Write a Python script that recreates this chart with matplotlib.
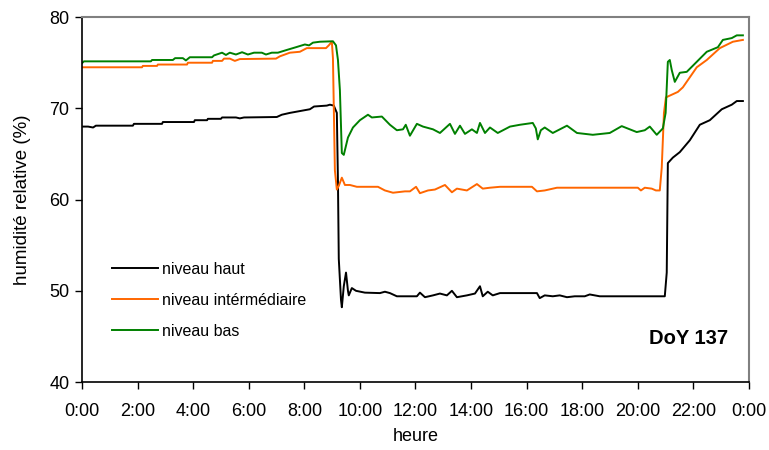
import matplotlib
matplotlib.use("Agg")
import matplotlib.pyplot as plt

plt.rcParams['font.family'] = ['Liberation Sans', 'DejaVu Sans']

# Relative humidity over the day (hours, %)
t_haut = [0.04, 0.22, 0.40, 0.50, 1.83, 1.87, 2.88, 2.91, 4.03, 4.06, 4.50, 4.53, 5.00, 5.04,
          5.54, 5.68, 5.83, 7.01, 7.19, 7.48, 7.84, 8.20, 8.35, 8.81, 8.92, 9.06, 9.17, 9.21,
          9.24, 9.32, 9.35, 9.42, 9.50, 9.57, 9.60, 9.71, 9.86, 10.18, 10.72, 10.90, 11.08,
          11.33, 12.05, 12.16, 12.34, 12.63, 12.88, 13.13, 13.31, 13.49, 13.85, 14.14, 14.32,
          14.42, 14.60, 14.78, 15.04, 16.37, 16.47, 16.65, 16.94, 17.19, 17.45, 17.73, 18.09,
          18.27, 18.63, 20.97, 21.04, 21.08, 21.26, 21.51, 21.87, 22.23, 22.59, 23.02, 23.38,
          23.56, 23.78]
rh_haut = [68.0, 68.0, 67.9, 68.1, 68.1, 68.3, 68.3, 68.5, 68.5, 68.7, 68.7, 68.85, 68.85, 69.0,
           69.0, 68.9, 69.0, 69.05, 69.3, 69.5, 69.7, 69.9, 70.2, 70.3, 70.4, 70.3, 69.5, 62.0,
           53.5, 49.0, 48.2, 50.5, 52.0, 50.0, 49.5, 50.3, 50.0, 49.8, 49.75, 49.9, 49.75,
           49.4, 49.4, 49.8, 49.3, 49.5, 49.7, 49.5, 50.0, 49.3, 49.5, 49.7, 50.5,
           49.4, 49.9, 49.5, 49.75, 49.75, 49.2, 49.5, 49.4, 49.5, 49.3, 49.4, 49.4,
           49.6, 49.4, 49.4, 52.0, 64.0, 64.6, 65.2, 66.5, 68.2, 68.7, 69.9, 70.4,
           70.8, 70.8]

t_inter = [0.0, 2.16, 2.19, 2.70, 2.73, 3.78, 3.81, 4.68, 4.71, 5.04, 5.11, 5.32, 5.50, 5.68,
           6.98, 7.12, 7.48, 7.84, 8.09, 8.78, 8.88, 8.99, 9.03, 9.10, 9.17, 9.24, 9.35, 9.46,
           9.64, 9.89, 10.65, 10.90, 11.19, 11.62, 11.80, 12.02, 12.16, 12.45, 12.70, 13.06,
           13.31, 13.49, 13.85, 14.21, 14.42, 14.68, 15.04, 16.19, 16.37, 16.65, 17.09, 20.00,
           20.11, 20.25, 20.50, 20.65, 20.79, 20.86, 20.94, 21.01, 21.44, 21.62, 22.12, 22.48,
           22.95, 23.42, 23.78]
rh_inter = [74.5, 74.5, 74.65, 74.65, 74.8, 74.8, 75.0, 75.0, 75.2, 75.2, 75.45, 75.45, 75.2, 75.4,
            75.45, 75.7, 76.1, 76.2, 76.6, 76.6, 76.9, 77.3, 75.5, 63.2, 61.1, 61.5, 62.4, 61.6,
            61.6, 61.4, 61.4, 61.0, 60.75, 60.9, 60.9, 61.4, 60.7, 61.0, 61.1, 61.6,
            60.8, 61.2, 61.0, 61.7, 61.2, 61.3, 61.4, 61.4, 60.9, 61.0, 61.3, 61.3,
            61.0, 61.3, 61.2, 61.0, 61.0, 63.5, 69.5, 71.2, 71.8, 72.3, 74.5, 75.3,
            76.6, 77.3, 77.5]

t_bas = [0.0, 0.07, 2.48, 2.52, 3.27, 3.35, 3.63, 3.74, 3.88, 4.68, 4.75, 5.04, 5.18, 5.32,
         5.54, 5.76, 5.97, 6.19, 6.47, 6.62, 6.83, 7.05, 7.37, 7.70, 8.02, 8.17, 8.31, 8.56,
         9.03, 9.14, 9.21, 9.28, 9.35, 9.42, 9.57, 9.75, 10.00, 10.29, 10.43, 10.79, 11.08,
         11.33, 11.55, 11.65, 11.80, 12.05, 12.27, 12.63, 12.88, 13.24, 13.42, 13.60, 13.78,
         14.03, 14.21, 14.32, 14.50, 14.68, 14.96, 15.40, 15.76, 16.22, 16.33, 16.40, 16.51,
         16.65, 16.94, 17.45, 17.81, 18.38, 18.99, 19.42, 19.96, 20.25, 20.43, 20.68, 20.90,
         21.00, 21.08, 21.15, 21.22, 21.33, 21.51, 21.76, 22.12, 22.48, 22.88, 23.06, 23.38,
         23.56, 23.78]
rh_bas = [74.95, 75.15, 75.15, 75.3, 75.3, 75.5, 75.5, 75.25, 75.6, 75.6, 75.8, 76.1, 75.85, 76.1,
          75.9, 76.15, 75.9, 76.1, 76.1, 75.9, 76.1, 76.1, 76.4, 76.7, 77.0, 76.9, 77.2, 77.3,
          77.35, 76.9, 75.3, 72.0, 65.1, 64.9, 66.8, 67.9, 68.7, 69.3, 69.0, 69.1, 68.2,
          67.6, 67.7, 68.2, 67.0, 68.3, 68.0, 67.7, 67.3, 68.3, 67.2, 68.1, 67.2,
          67.7, 67.3, 68.4, 67.3, 67.9, 67.3, 68.0, 68.2, 68.4, 67.8, 66.6, 67.6,
          67.9, 67.3, 68.1, 67.3, 67.1, 67.3, 68.05, 67.4, 67.6, 68.0, 67.1, 67.8,
          69.5, 75.1, 75.3, 74.2, 72.9, 73.9, 74.0, 75.1, 76.2, 76.7, 77.5, 77.7,
          78.0, 78.0]

x_ticks = list(range(0, 25, 2))
x_labels = ["0:00", "2:00", "4:00", "6:00", "8:00", "10:00", "12:00", "14:00",
            "16:00", "18:00", "20:00", "22:00", "0:00"]
y_ticks = [40, 50, 60, 70, 80]

fig = plt.figure(figsize=(7.69, 4.5), dpi=100)
ax = fig.add_axes([0.1066, 0.151, 0.8674, 0.811])

ax.plot(t_haut, rh_haut, color="black", lw=1.4, label="niveau haut")
ax.plot(t_inter, rh_inter, color="#FF6600", lw=1.4, label="niveau intérmédiaire")
ax.plot(t_bas, rh_bas, color="#008000", lw=1.4, label="niveau bas")

ax.set_xlim(0, 24)
ax.set_ylim(40, 80)
ax.set_xticks(x_ticks)
ax.set_xticklabels(x_labels)
ax.set_yticks(y_ticks)
ax.tick_params(axis="both", direction="out", length=5, width=1, labelsize=13)
ax.tick_params(axis="x", pad=10)
ax.tick_params(axis="y", pad=4)

for side in ("top", "right"):
    ax.spines[side].set_color("#808080")
    ax.spines[side].set_linewidth(1.5)
for side in ("left", "bottom"):
    ax.spines[side].set_color("black")
    ax.spines[side].set_linewidth(1.2)

ax.set_xlabel("heure", fontsize=13, labelpad=6)
ax.set_ylabel("humidité relative (%)", fontsize=13.5, labelpad=13)

ax.legend(loc="upper left", bbox_to_anchor=(0.045, 0.329), frameon=False, fontsize=11.5,
          handlelength=2.9, handletextpad=0.25, labelspacing=1.0, borderaxespad=0,
          borderpad=0)

ax.text(0.968, 0.12, "DoY 137", transform=ax.transAxes, ha="right", va="center",
        fontsize=14.5, fontweight="bold")

fig.savefig("out.png", dpi=100)
